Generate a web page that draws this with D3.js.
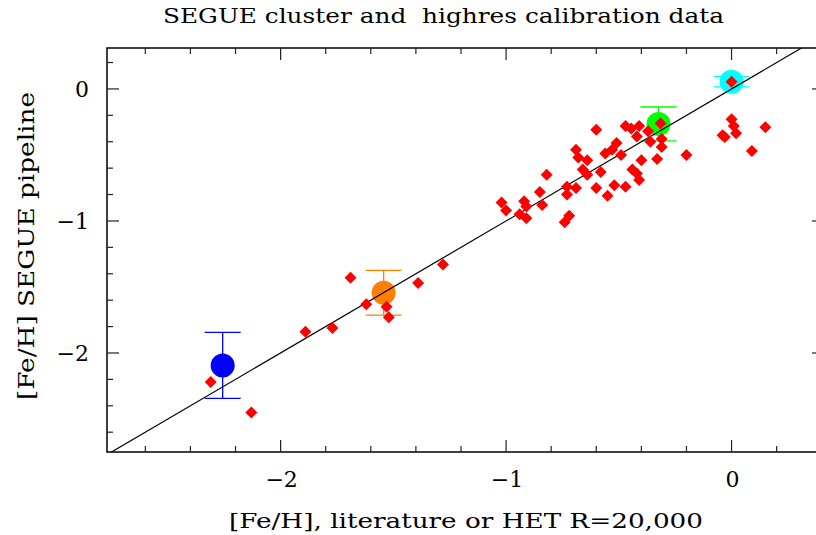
<!DOCTYPE html>
<html>
<head>
<meta charset="utf-8">
<script src="https://cdn.jsdelivr.net/npm/d3@7"></script>
<style>
  html, body { margin: 0; padding: 0; background: #fff; }
  svg { display: block; }
  text { font-family: "DejaVu Serif", "Liberation Serif", serif; fill: #000; white-space: pre; }
</style>
</head>
<body>
<svg id="chart" width="816" height="535"></svg>
<script>
// ---- data ----
const title = "SEGUE cluster and  highres calibration data";
const xLabel = "[Fe/H], literature or HET R=20,000";
const yLabel = "[Fe/H] SEGUE pipeline";

const xMajorTicks = [-2, -1, 0];
const yMajorTicks = [-2, -1, 0];
const tickLabels = {"-2": "\u22122", "-1": "\u22121", "0": "0"};

// calibration stars (red diamonds)
const starLit = [
  -2.31, -2.13, -1.89, -1.77, -1.69, -1.62, -1.53, -1.52, -1.39, -1.28,
  -1.02, -1.00, -0.92, -0.91, -0.94, -0.91, -0.85, -0.84, -0.82, -0.73, -0.73, -0.69, -0.74, -0.72,
  -0.69, -0.68, -0.64, -0.66, -0.64, -0.58, -0.60, -0.60, -0.56, -0.53, -0.51, -0.49, -0.55, -0.52, -0.47, -0.44, -0.42, -0.41, -0.40,
  -0.47, -0.445, -0.41, -0.37, -0.42, -0.36, -0.315, -0.31, -0.31, -0.33, -0.20,
  0.00, 0.00, 0.01, 0.02, -0.04, -0.03, 0.15, 0.09
];
const starSegue = [
  -2.22, -2.45, -1.84, -1.81, -1.43, -1.63, -1.65, -1.73, -1.47, -1.33,
  -0.86, -0.92, -0.85, -0.89, -0.95, -0.98, -0.78, -0.88, -0.65, -0.74, -0.80, -0.75, -1.01, -0.96,
  -0.46, -0.52, -0.54, -0.61, -0.65, -0.63, -0.31, -0.75, -0.49, -0.46, -0.41, -0.50, -0.81, -0.73, -0.74, -0.61, -0.64, -0.69, -0.54,
  -0.28, -0.30, -0.28, -0.32, -0.36, -0.40, -0.26, -0.38, -0.44, -0.53, -0.50,
  0.055, -0.23, -0.28, -0.335, -0.35, -0.365, -0.29, -0.47
];

// clusters (big circles with error bars)
const clusterLit   = [-2.257, -1.543, -0.324, 0.0];
const clusterSegue = [-2.094, -1.544, -0.265, 0.055];
const clusterErr   = [0.25, 0.17, 0.128, 0.04];
const clusterColor = ["#0000ff", "#ff8000", "#00ff00", "#00ffff"];

// ---- layout ----
const svg = d3.select("#chart");
const x = d3.scaleLinear().domain([-2.77, 0.41]).range([107, 824]);
const y = d3.scaleLinear().domain([-2.75, 0.31]).range([452, 48]);

const x0 = x.range()[0], x1 = x.range()[1];
const y0 = y.range()[0], y1 = y.range()[1];

// clusters circles
const clusters = clusterLit.map((d, i) => ({x: d, y: clusterSegue[i], e: clusterErr[i], c: clusterColor[i]}));

const gC = svg.append("g");
gC.selectAll("circle").data(clusters).enter().append("circle")
  .attr("cx", d => x(d.x)).attr("cy", d => y(d.y)).attr("r", 12)
  .attr("fill", d => d.c);
// error bars
clusters.forEach(d => {
  const g = gC.append("g").attr("stroke", d.c).attr("stroke-width", 1.3);
  g.append("line").attr("x1", x(d.x)).attr("x2", x(d.x)).attr("y1", y(d.y + d.e)).attr("y2", y(d.y - d.e));
  [d.y + d.e, d.y - d.e].forEach(v => {
    g.append("line").attr("x1", x(d.x) - 18).attr("x2", x(d.x) + 18).attr("y1", y(v)).attr("y2", y(v));
  });
});

// one-to-one line, clipped to frame
svg.append("clipPath").attr("id", "clip").append("rect")
  .attr("x", x0).attr("y", y1).attr("width", x1 - x0).attr("height", y0 - y1);
svg.append("line").attr("clip-path", "url(#clip)")
  .attr("x1", x(-2.77)).attr("y1", y(-2.77)).attr("x2", x(0.41)).attr("y2", y(0.41))
  .attr("stroke", "#000").attr("stroke-width", 1.2);

// diamonds
const stars = starLit.map((d, i) => ({x: d, y: starSegue[i]}));
const ds = 6;
svg.append("g").selectAll("path").data(stars).enter().append("path")
  .attr("d", d => {
    const cx = x(d.x), cy = y(d.y);
    return `M${cx},${cy - ds}L${cx + ds},${cy}L${cx},${cy + ds}L${cx - ds},${cy}Z`;
  })
  .attr("fill", "#ff0000");

// frame
svg.append("rect").attr("x", x0).attr("y", y1).attr("width", x1 - x0).attr("height", y0 - y1)
  .attr("fill", "none").attr("stroke", "#000").attr("stroke-width", 1.5);

// ticks (inward, all four sides)
const xMinor = d3.range(-2.6, 0.41, 0.2).map(v => Math.round(v * 10) / 10);
const yMinor = d3.range(-2.6, 0.31, 0.2).map(v => Math.round(v * 10) / 10);
const isMajor = v => Math.abs(v - Math.round(v)) < 1e-6;
const gt = svg.append("g").attr("stroke", "#222").attr("stroke-width", 1.2);
xMinor.forEach(v => {
  const L = isMajor(v) ? 12 : 6;
  gt.append("line").attr("x1", x(v)).attr("x2", x(v)).attr("y1", y0).attr("y2", y0 - L);
  gt.append("line").attr("x1", x(v)).attr("x2", x(v)).attr("y1", y1).attr("y2", y1 + L);
});
yMinor.forEach(v => {
  const L = isMajor(v) ? 12 : 6;
  gt.append("line").attr("y1", y(v)).attr("y2", y(v)).attr("x1", x0).attr("x2", x0 + L);
  gt.append("line").attr("y1", y(v)).attr("y2", y(v)).attr("x1", x1).attr("x2", x1 - L);
});

// tick labels
const tfs = 22;
svg.append("g").selectAll("text").data(xMajorTicks).enter().append("text")
  .attr("x", d => x(d) + 1).attr("y", 487)
  .attr("text-anchor", "middle").attr("font-size", tfs)
  .text(d => tickLabels[String(d)]);
svg.append("g").selectAll("text").data(yMajorTicks).enter().append("text")
  .attr("x", 89).attr("y", d => y(d) + 8)
  .attr("text-anchor", "end").attr("font-size", tfs)
  .text(d => tickLabels[String(d)]);

// titles
svg.append("text").attr("x", 163).attr("y", 22.5).attr("font-size", 20.5)
  .attr("xml:space", "preserve")
  .attr("textLength", 561).attr("lengthAdjust", "spacingAndGlyphs").text(title);
svg.append("text").attr("x", 229).attr("y", 528).attr("font-size", 21)
  .attr("textLength", 474).attr("lengthAdjust", "spacingAndGlyphs").text(xLabel);
svg.append("text").attr("transform", "translate(34,400) rotate(-90)").attr("font-size", 23)
  .attr("textLength", 308).attr("lengthAdjust", "spacingAndGlyphs").text(yLabel);
</script>
</body>
</html>
